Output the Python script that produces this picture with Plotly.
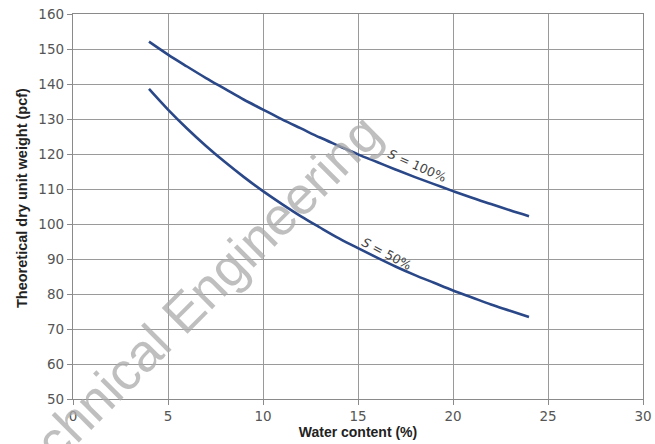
import plotly.graph_objects as go

water_content = [4, 5, 6, 7, 8, 9, 10, 11, 12, 13, 14, 15, 16, 17, 18, 19, 20, 21, 22, 23, 24]
dry_weight_s100 = [152.1, 148.4, 145.0, 141.7, 138.6, 135.5, 132.7, 129.9, 127.3, 124.7, 122.3,
                   119.9, 117.7, 115.5, 113.4, 111.4, 109.4, 107.5, 105.7, 103.9, 102.2]
dry_weight_s50 = [138.6, 132.7, 127.3, 122.3, 117.7, 113.4, 109.4, 105.7, 102.2, 99.0, 95.9,
                  93.1, 90.4, 87.8, 85.4, 83.2, 81.0, 79.0, 77.0, 75.2, 73.4]
x_ticks = [0, 5, 10, 15, 20, 25, 30]
y_ticks = [50, 60, 70, 80, 90, 100, 110, 120, 130, 140, 150, 160]

line_color = "#2a4787"

fig = go.Figure()
fig.add_trace(go.Scatter(x=water_content, y=dry_weight_s100, mode="lines",
                         line=dict(color=line_color, width=2.6, shape="spline"),
                         showlegend=False, hoverinfo="skip"))
fig.add_trace(go.Scatter(x=water_content, y=dry_weight_s50, mode="lines",
                         line=dict(color=line_color, width=2.6, shape="spline"),
                         showlegend=False, hoverinfo="skip"))

label_font = dict(family="DejaVu Sans", size=12.5, color="#444444")
fig.add_annotation(x=18.1, y=116.6, text="<i>S</i> = 100%", showarrow=False,
                   textangle=24, font=label_font)
fig.add_annotation(x=16.5, y=91.7, text="<i>S</i> = 50%", showarrow=False,
                   textangle=28, font=label_font)

# watermark
fig.add_annotation(xref="paper", yref="paper", x=0.203, y=0.239,
                   xanchor="center", yanchor="middle",
                   text="Technical Engineering", showarrow=False, textangle=-45,
                   font=dict(family="Liberation Sans", size=53, color="rgba(170,170,170,0.75)"))

# y-axis title
fig.add_annotation(xref="paper", yref="paper", x=-0.0895, y=0.522,
                   xanchor="center", yanchor="middle", showarrow=False, textangle=-90,
                   text="<b>Theoretical dry unit weight (pcf)</b>",
                   font=dict(family="Liberation Sans", size=14.5, color="#222222"))

axis_common = dict(
    showgrid=True, gridcolor="#9a9a9a", gridwidth=1.2,
    showline=True, linecolor="#8a8a8a", linewidth=1.3, mirror=True,
    ticks="outside", ticklen=5, tickcolor="#8a8a8a", tickwidth=1.2,
    zeroline=False, automargin=False,
    tickfont=dict(family="DejaVu Sans", size=13.5, color="#555555"),
)

fig.update_xaxes(range=[0, 30], tickvals=x_ticks, **axis_common,
                 title=dict(text="<b>Water content (%)</b>", standoff=3,
                            font=dict(family="Liberation Sans", size=14, color="#222222")))
fig.update_yaxes(range=[50, 160], tickvals=y_ticks, **axis_common)

fig.update_layout(
    width=655, height=444,
    margin=dict(l=73, r=12, t=14, b=45),
    paper_bgcolor="white", plot_bgcolor="white",
)

fig.write_html("out.html", config={"displayModeBar": False},
               post_script="document.body.style.margin='0';document.body.style.overflow='hidden';")
